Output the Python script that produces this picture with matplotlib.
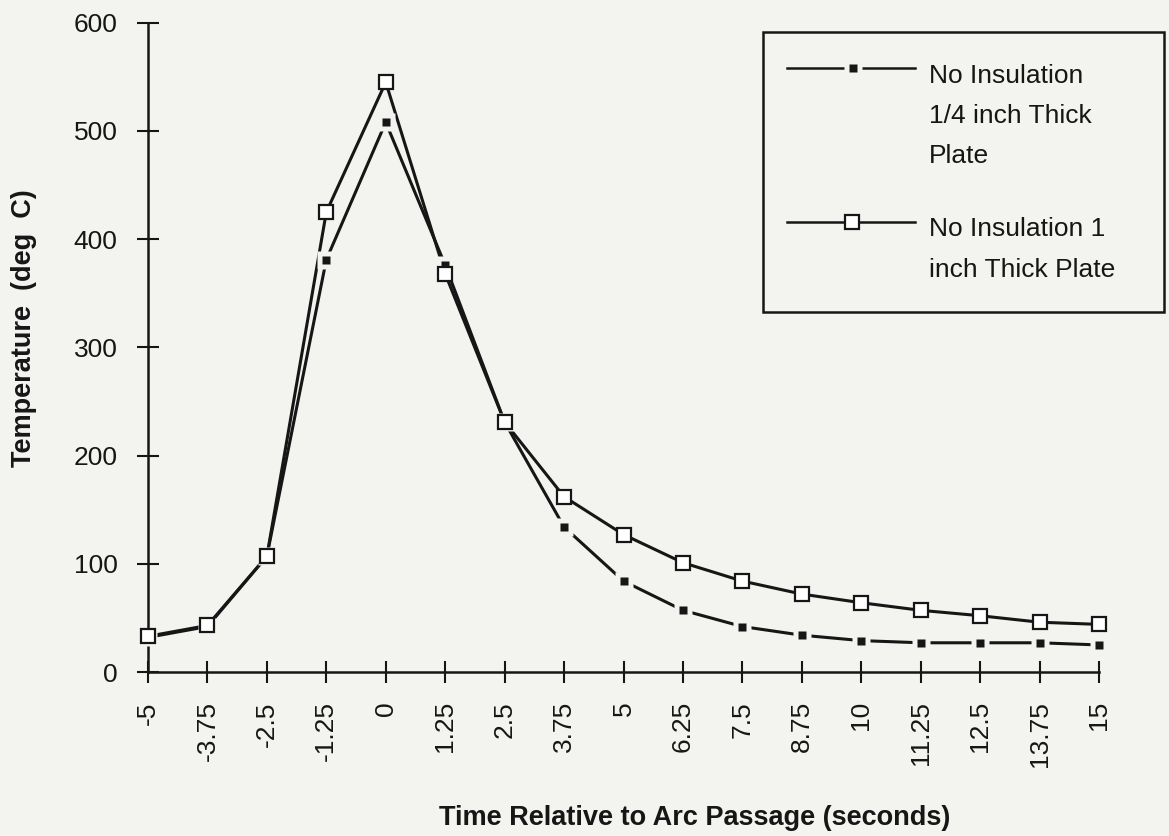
import matplotlib
matplotlib.use("Agg")
import matplotlib.pyplot as plt
from matplotlib.patches import Rectangle

# ---------------- data ----------------
times = [-5, -3.75, -2.5, -1.25, 0, 1.25, 2.5, 3.75, 5, 6.25, 7.5, 8.75,
         10, 11.25, 12.5, 13.75, 15]
tick_labels = ["-5", "-3.75", "-2.5", "-1.25", "0", "1.25", "2.5", "3.75", "5",
               "6.25", "7.5", "8.75", "10", "11.25", "12.5", "13.75", "15"]
quarter_inch = [32, 42, 107, 381, 508, 376, 231, 134, 84, 57, 42, 34, 29, 27, 27, 27, 25]
one_inch = [33, 43, 107, 425, 545, 368, 231, 162, 127, 101, 84, 72, 64, 57, 52, 46, 44]
y_ticks = [0, 100, 200, 300, 400, 500, 600]
label_quarter = ["No Insulation", "1/4 inch Thick", "Plate"]
label_one = ["No Insulation 1", "inch Thick Plate"]
x_title = "Time Relative to Arc Passage (seconds)"
y_title = "Temperature  (deg  C)"

# ---------------- style ----------------
BG = "#f3f3ef"
INK = "#161616"
FONT = "Liberation Sans"
plt.rcParams["font.family"] = [FONT, "DejaVu Sans"]
FS = 19
FS_T = 19.5

W, H = 1169, 836
fig = plt.figure(figsize=(W / 100, H / 100), dpi=100, facecolor=BG)
x0, x1, yb, yt = 148, 1099, 672, 22.7
ax = fig.add_axes([x0 / W, 1 - yb / H, (x1 - x0) / W, (yb - yt) / H])
ax.set_facecolor("none")

ax.set_xlim(times[0], times[-1])
ax.set_ylim(0, 600)
for s in ["top", "right"]:
    ax.spines[s].set_visible(False)
for s in ["left", "bottom"]:
    ax.spines[s].set_linewidth(1.8)
    ax.spines[s].set_color(INK)

ax.set_xticks(times)
ax.set_xticklabels(tick_labels, rotation=90, va="top", ha="center")
ax.set_yticks(y_ticks)
ax.set_yticklabels([str(v) for v in y_ticks])
ax.tick_params(axis="both", direction="inout", length=16, width=1.5,
               color=INK, labelcolor=INK, labelsize=FS)
ax.tick_params(axis="x", pad=13)
ax.tick_params(axis="y", pad=14)

LW = 2.2
# open-square series line
ax.plot(times, one_inch, color=INK, lw=LW, zorder=2, clip_on=False)
# filled-square series line, with background mask around markers
ax.plot(times, quarter_inch, color=INK, lw=LW, zorder=2, clip_on=False)
ax.plot(times, quarter_inch, ls="none", marker="s", ms=12.5, mfc=BG, mec="none",
        zorder=3, clip_on=False)
ax.plot(times, quarter_inch, ls="none", marker="s", ms=6, mfc=INK, mec="none",
        zorder=4, clip_on=False)
# open squares on top
ax.plot(times, one_inch, ls="none", marker="s", ms=9.5, mfc="white", mec=INK,
        mew=1.6, zorder=5, clip_on=False)

# ---------------- overlay in pixel coordinates (titles + legend) ----------------
ov = fig.add_axes([0, 0, 1, 1])
ov.set_xlim(0, W)
ov.set_ylim(H, 0)
ov.axis("off")
ov.set_zorder(10)
ov.patch.set_alpha(0)

ov.text(695, 825, x_title, ha="center", va="baseline", fontsize=FS_T,
        fontweight="bold", color=INK)
ov.text(24, 328, y_title, ha="center", va="center", rotation=90, fontsize=FS_T,
        fontweight="bold", color=INK)

ov.add_patch(Rectangle((763, 32), 1164 - 763, 312 - 32, fill=False, ec=INK, lw=1.8))
# legend entry 1
ov.plot([787, 915], [68, 68], color=INK, lw=1.8)
ov.plot([853], [68], marker="s", ms=12.5, mfc=BG, mec="none", ls="none")
ov.plot([853], [68], marker="s", ms=6, mfc=INK, mec="none", ls="none")
for i, t in enumerate(label_quarter):
    ov.text(929, 83 + 40 * i, t, ha="left", va="baseline", fontsize=FS, color=INK)
# legend entry 2
ov.plot([787, 915], [222, 222], color=INK, lw=1.8)
ov.plot([852], [222], marker="s", ms=9.5, mfc="white", mec=INK, mew=1.6, ls="none")
for i, t in enumerate(label_one):
    ov.text(929, 236 + 41 * i, t, ha="left", va="baseline", fontsize=FS, color=INK)

fig.savefig("out.png", dpi=100, facecolor=BG)
